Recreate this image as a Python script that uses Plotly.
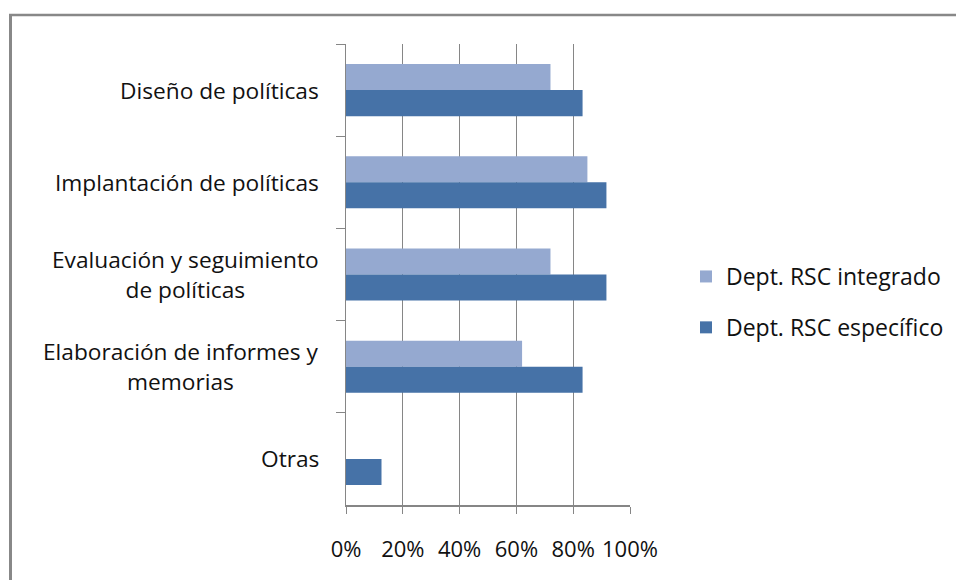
import plotly.graph_objects as go

# Categories (top to bottom) and shares for each department type
categorias = [
    "Diseño de políticas",
    "Implantación de políticas",
    "Evaluación y seguimiento<br>de políticas",
    "Elaboración de informes y<br>memorias",
    "Otras",
]
integrado = [0.72, 0.85, 0.72, 0.62, 0.0]
especifico = [0.833, 0.917, 0.917, 0.833, 0.125]
serie_nombres = ["Dept. RSC integrado", "Dept. RSC específico"]
x_ticks = [0, 0.2, 0.4, 0.6, 0.8, 1.0]
x_tick_labels = ["0%", "20%", "40%", "60%", "80%", "100%"]

W, H = 956, 580
L, R, T, B = 346, 326, 44, 75
PW, PH = W - L - R, H - T - B
FONT = "Open Sans"
LABEL_SIZE = 22.7
LEGEND_SIZE = 23
TICK_SIZE = 22
TXT = "#111111"
GRAY = "#868686"


def px_x(p):
    return (p - L) / PW


def px_y(p):
    return (H - B - p) / PH


fig = go.Figure()
fig.add_trace(go.Bar(
    y=categorias, x=integrado, orientation="h", name=serie_nombres[0],
    marker=dict(color="#95A9D0", line=dict(width=0)), legendgroup="a",
))
fig.add_trace(go.Bar(
    y=categorias, x=especifico, orientation="h", name=serie_nombres[1],
    marker=dict(color="#4672A7", line=dict(width=0)), legendgroup="b",
))

# Category labels, centred line by line and right-aligned to the axis
annotations = [
    dict(
        x=px_x(321), y=c, xref="paper", yref="y", text=c,
        showarrow=False, xanchor="right", yanchor="middle", align="center",
        font=dict(family=FONT, size=LABEL_SIZE, color=TXT),
    )
    for c in categorias
]

shapes = [
    dict(type="line", xref="paper", yref="paper",
         x0=px_x(10.5), x1=px_x(10.5), y0=px_y(14), y1=px_y(600),
         line=dict(color="#888888", width=3)),
    dict(type="line", xref="paper", yref="paper",
         x0=px_x(9), x1=px_x(1000), y0=px_y(15), y1=px_y(15),
         line=dict(color="#888888", width=2.5)),
]

fig.update_layout(
    width=W, height=H, autosize=False,
    margin=dict(l=L, r=R, t=T, b=B, pad=0, autoexpand=False),
    paper_bgcolor="white", plot_bgcolor="white",
    barmode="group", bargap=0.435, bargroupgap=0,
    font=dict(family=FONT, size=LABEL_SIZE, color=TXT),
    showlegend=True,
    legend=dict(
        x=px_x(686), y=px_y(302), xanchor="left", yanchor="middle",
        bgcolor="rgba(0,0,0,0)", traceorder="grouped", tracegroupgap=18,
        font=dict(family=FONT, size=LEGEND_SIZE, color=TXT),
    ),
    annotations=annotations,
    shapes=shapes,
    xaxis=dict(
        range=[0, 1], tickvals=x_ticks, ticktext=x_tick_labels,
        showgrid=True, gridcolor=GRAY, gridwidth=1, zeroline=False,
        showline=True, linecolor=GRAY, linewidth=2,
        ticks="outside", ticklen=7, tickcolor=GRAY, tickwidth=1,
        ticklabelstandoff=17,
        tickfont=dict(family=FONT, size=TICK_SIZE, color=TXT),
    ),
    yaxis=dict(
        autorange="reversed", type="category",
        showticklabels=False, showgrid=False, zeroline=False,
        showline=True, linecolor=GRAY, linewidth=1,
        ticks="outside", ticklen=9, tickcolor=GRAY, tickwidth=1,
        tickson="boundaries",
    ),
)

fig.write_html("out.html")
